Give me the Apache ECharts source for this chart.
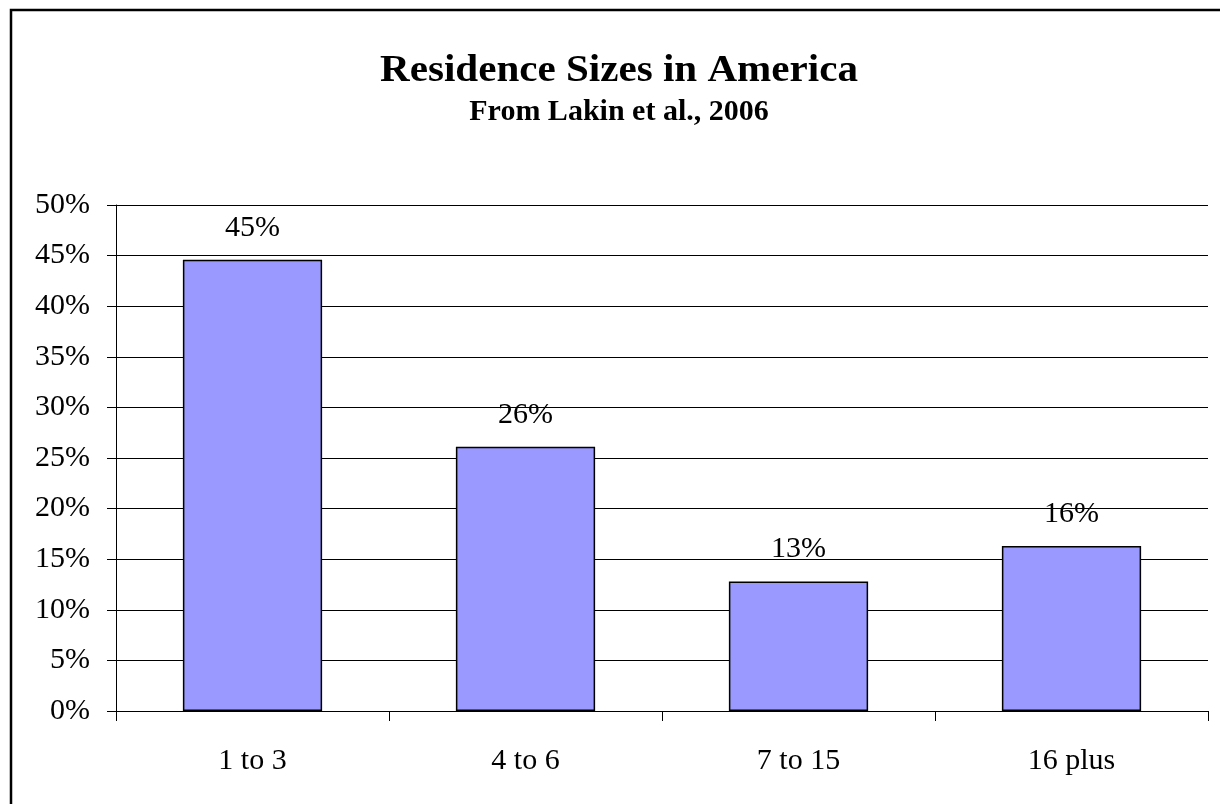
<!DOCTYPE html>
<html>
<head>
<meta charset="utf-8">
<script src="https://cdn.jsdelivr.net/npm/echarts@6/dist/echarts.min.js"></script>
<style>
html,body{margin:0;padding:0;background:#fff;}
#chart{width:1220px;height:804px;}
</style>
</head>
<body>
<div id="chart"></div>
<script>
var titleText = 'Residence Sizes in America';
var subtitleText = 'From Lakin et al., 2006';
var categories = ['1 to 3', '4 to 6', '7 to 15', '16 plus'];
var shares = [44.6, 26.1, 12.8, 16.3];
var yTicks = { min: 0, max: 50, interval: 5 };

var serif = '"Liberation Serif", "Times New Roman", serif';
var chart = echarts.init(document.getElementById('chart'), null, { renderer: 'canvas' });
chart.setOption({
  animation: false,
  backgroundColor: '#fff',
  graphic: [{
    type: 'rect', silent: true, z: 0,
    shape: { x: 11, y: 10, width: 1400, height: 1000 },
    style: { fill: 'none', stroke: '#000', lineWidth: 2.5 }
  }, {
    type: 'text', silent: true, z: 10,
    x: 619, y: 71, scaleX: 1.11, scaleY: 1,
    style: {
      text: titleText, fill: '#000',
      font: 'bold 37px ' + serif,
      align: 'center', verticalAlign: 'middle'
    }
  }, {
    type: 'text', silent: true, z: 10,
    x: 619, y: 112,
    style: {
      text: subtitleText, fill: '#000',
      font: 'bold 30px ' + serif,
      align: 'center', verticalAlign: 'middle'
    }
  }],
  grid: { left: 116, right: 12, top: 205, bottom: 93, containLabel: false },
  xAxis: {
    type: 'category',
    data: categories,
    boundaryGap: true,
    axisLine: { show: true, lineStyle: { color: '#000', width: 1 } },
    axisTick: { show: true, length: 10, alignWithLabel: false, lineStyle: { color: '#000', width: 1 } },
    axisLabel: { fontFamily: serif, fontSize: 30, color: '#000', margin: 35 },
    splitLine: { show: false }
  },
  yAxis: {
    type: 'value',
    min: yTicks.min, max: yTicks.max, interval: yTicks.interval,
    axisLine: { show: true, lineStyle: { color: '#000', width: 1 } },
    axisTick: { show: true, length: 9, inside: false, lineStyle: { color: '#000', width: 1 } },
    axisLabel: { fontFamily: serif, fontSize: 30, color: '#000', margin: 26, formatter: '{value}%' },
    splitLine: { show: true, lineStyle: { color: '#000', width: 1 } }
  },
  series: [{
    type: 'bar',
    data: shares,
    barCategoryGap: '49%',
    itemStyle: { color: '#9999FF', borderColor: '#000', borderWidth: 1.5 },
    label: {
      show: true, position: 'top', distance: 17,
      fontFamily: serif, fontSize: 30, color: '#000',
      formatter: function (p) { return Math.round(p.value) + '%'; }
    }
  }]
});
</script>
</body>
</html>
